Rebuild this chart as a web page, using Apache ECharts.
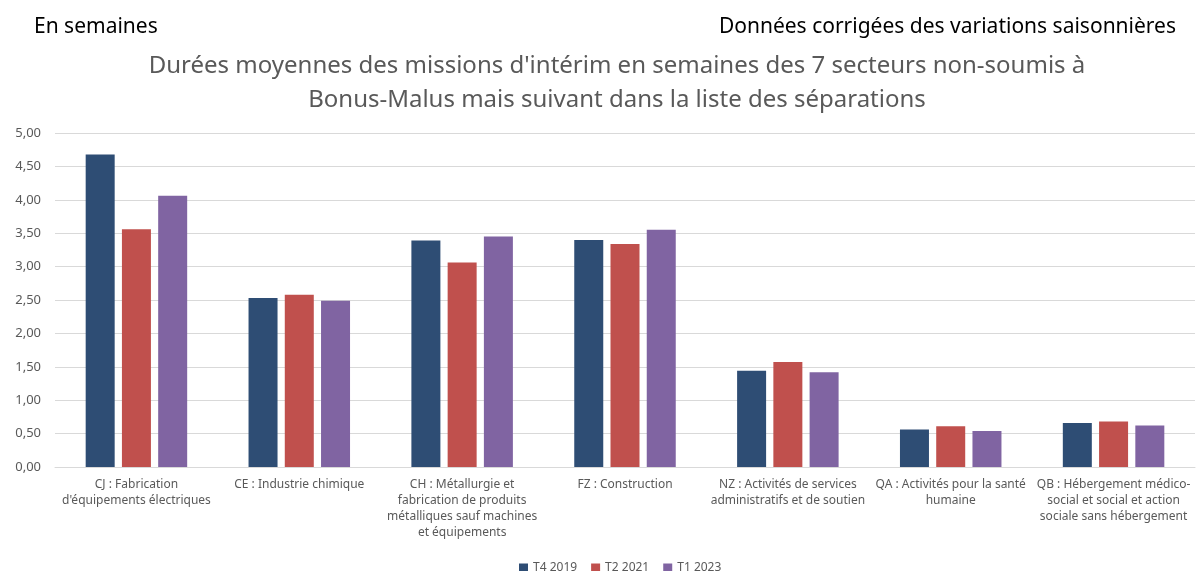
<!DOCTYPE html>
<html>
<head>
<meta charset="utf-8">
<script src="https://cdn.jsdelivr.net/npm/echarts@6/dist/echarts.min.js"></script>
<style>
  html, body { margin: 0; padding: 0; background: #fff; }
  #barChart { width: 1197px; height: 571px; }
</style>
</head>
<body>
<div id="barChart"></div>
<script>
// données
var secteurs = [
	"CJ : Fabrication\nd'équipements électriques",
	"CE : Industrie chimique",
	"CH : Métallurgie et\nfabrication de produits\nmétalliques sauf machines\net équipements",
	"FZ : Construction",
	"NZ : Activités de services\nadministratifs et de soutien",
	"QA : Activités pour la santé\nhumaine",
	"QB : Hébergement médico-\nsocial et social et action\nsociale sans hébergement"
];
var t4_2019 = [4.68, 2.53, 3.39, 3.40, 1.44, 0.56, 0.66];
var t2_2021 = [3.56, 2.58, 3.06, 3.34, 1.57, 0.61, 0.68];
var t1_2023 = [4.06, 2.49, 3.45, 3.55, 1.42, 0.54, 0.62];
var nomsSeries = ['T4 2019', 'T2 2021', 'T1 2023'];
var couleurs = ['#2E4D74', '#C0504D', '#8064A2'];

var police = "'Noto Sans', sans-serif";

var myChart = echarts.init(document.getElementById('barChart'));

var option = {
	color: couleurs,
	textStyle: { fontFamily: police },
	title: [{
		text: 'En semaines',
		left: 29,
		top: 12,
		textStyle: { fontSize: 21, fontWeight: 'normal', color: '#000', fontFamily: police }
	}, {
		text: 'Données corrigées des variations saisonnières',
		right: 16,
		top: 12,
		textStyle: { fontSize: 21, fontWeight: 'normal', color: '#000', fontFamily: police }
	}, {
		text: "Durées moyennes des missions d'intérim en semaines des 7 secteurs non-soumis à\nBonus-Malus mais suivant dans la liste des séparations",
		left: 612,
		textAlign: 'center',
		top: 44,
		textStyle: { fontSize: 24, fontWeight: 'normal', color: '#595959', lineHeight: 34, fontFamily: police }
	}],
	legend: {
		data: nomsSeries,
		bottom: -8,
		left: 514,
		itemWidth: 9,
		itemHeight: 9,
		itemGap: 14,
		icon: 'rect',
		textStyle: { fontSize: 12, color: '#595959', fontFamily: police }
	},
	grid: {
		left: 55,
		right: 2,
		top: 133,
		bottom: 104
	},
	xAxis: {
		type: 'category',
		data: secteurs,
		axisLine: { lineStyle: { color: '#d9d9d9' } },
		axisTick: { show: false },
		axisLabel: {
			interval: 0,
			margin: 10,
			fontSize: 12,
			lineHeight: 16,
			color: '#595959',
			fontFamily: police
		}
	},
	yAxis: {
		type: 'value',
		min: 0,
		max: 5,
		interval: 0.5,
		axisLine: { show: false },
		axisTick: { show: false },
		splitLine: { lineStyle: { color: '#d9d9d9', width: 1 } },
		axisLabel: {
			fontSize: 13,
			color: '#595959',
			margin: 14,
			fontFamily: police,
			formatter: function (v) {
				return v.toFixed(2).replace('.', ',');
			}
		}
	},
	series: [{
		name: nomsSeries[0],
		type: 'bar',
		data: t4_2019,
		barWidth: 29,
		barGap: '25%',
		animation: false
	}, {
		name: nomsSeries[1],
		type: 'bar',
		data: t2_2021,
		barWidth: 29,
		barGap: '25%',
		animation: false
	}, {
		name: nomsSeries[2],
		type: 'bar',
		data: t1_2023,
		barWidth: 29,
		barGap: '25%',
		animation: false
	}]
};

myChart.setOption(option);
</script>
</body>
</html>
